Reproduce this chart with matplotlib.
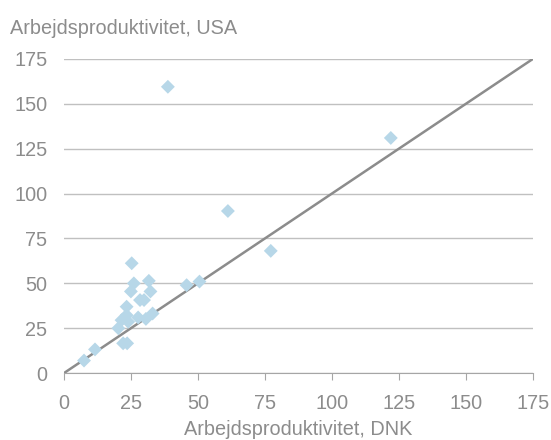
import matplotlib
matplotlib.use('Agg')
import matplotlib.pyplot as plt

plt.rcParams['font.family'] = ['Liberation Sans', 'DejaVu Sans']

# Labour productivity, Denmark (x) vs USA (y)
dnk = [38.8, 122.0, 61.2, 77.2, 45.8, 50.6, 25.3, 26.1, 25.0, 31.7, 32.3,
       28.4, 29.9, 23.4, 23.4, 21.5, 20.3, 24.0, 27.7, 30.6, 33.1, 22.1,
       23.6, 11.6, 7.5]
usa = [159.5, 131.0, 90.3, 68.1, 49.0, 51.0, 61.2, 50.0, 45.5, 51.4, 45.5,
       40.7, 40.7, 37.0, 32.3, 29.5, 25.0, 28.6, 31.0, 30.2, 33.2, 16.6,
       16.6, 13.2, 7.0]
ticks = [0, 25, 50, 75, 100, 125, 150, 175]

grey = '#8c8c8c'
fs = 14.3

fig = plt.figure(figsize=(5.51, 4.40), dpi=100)
ax = fig.add_axes([0.116, 0.152, 0.851, 0.714])

ax.plot([0, 175], [0, 175], color='#8c8c8c', linewidth=1.8, zorder=2)
ax.scatter(dnk, usa, marker='D', s=50, color='#b7d7e8', edgecolors='none', zorder=3)

ax.set_xlim(0, 175)
ax.set_ylim(0, 175)
ax.set_xticks(ticks)
ax.set_yticks(ticks)
ax.grid(axis='y', color='#c0c0c0', linewidth=1.0, zorder=0)
ax.set_axisbelow(True)

for s in ['top', 'right', 'left']:
    ax.spines[s].set_visible(False)
ax.spines['bottom'].set_color('#a6a6a6')
ax.tick_params(axis='x', colors='#a6a6a6', length=5, direction='out', labelcolor=grey, labelsize=fs, pad=10)
ax.tick_params(axis='y', length=0, labelcolor=grey, labelsize=fs, pad=12)

ax.set_xlabel('Arbejdsproduktivitet, DNK', color=grey, fontsize=fs, labelpad=5)
fig.text(0.018, 0.936, 'Arbejdsproduktivitet, USA', color=grey, fontsize=fs, va='center')

fig.savefig('out.png', dpi=100)
